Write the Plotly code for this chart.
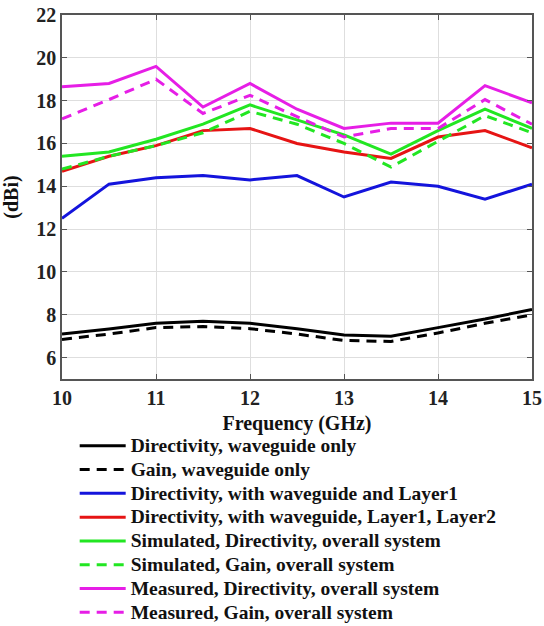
import plotly.graph_objects as go

# Frequency sweep (GHz)
freq = [10, 10.5, 11, 11.5, 12, 12.5, 13, 13.5, 14, 14.5, 15]

# Directivity / gain values (dBi)
dir_waveguide = [7.1, 7.33, 7.6, 7.7, 7.6, 7.35, 7.05, 7.0, 7.4, 7.8, 8.25]
gain_waveguide = [6.85, 7.1, 7.4, 7.45, 7.35, 7.1, 6.8, 6.75, 7.15, 7.6, 8.0]
dir_layer1 = [12.5, 14.1, 14.4, 14.5, 14.3, 14.5, 13.5, 14.2, 14.0, 13.4, 14.1]
dir_layer12 = [14.7, 15.4, 15.9, 16.6, 16.7, 16.0, 15.6, 15.3, 16.3, 16.6, 15.8]
sim_dir = [15.4, 15.6, 16.2, 16.9, 17.8, 17.1, 16.4, 15.5, 16.6, 17.6, 16.7]
sim_gain = [14.8, 15.4, 15.9, 16.5, 17.5, 16.9, 16.0, 14.9, 16.1, 17.3, 16.5]
meas_dir = [18.65, 18.8, 19.6, 17.7, 18.8, 17.6, 16.7, 16.95, 16.95, 18.7, 17.9]
meas_gain = [17.15, 18.05, 19.0, 17.4, 18.25, 17.25, 16.3, 16.7, 16.7, 18.05, 16.9]

series = [
    ("Directivity, waveguide only", dir_waveguide, "#000000", "solid"),
    ("Gain, waveguide only", gain_waveguide, "#000000", "10px,7px"),
    ("Directivity, with waveguide and Layer1", dir_layer1, "#1414dc", "solid"),
    ("Directivity, with waveguide, Layer1, Layer2", dir_layer12, "#e61414", "solid"),
    ("Simulated, Directivity, overall system", sim_dir, "#22e622", "solid"),
    ("Simulated, Gain, overall system", sim_gain, "#22e622", "10px,7px"),
    ("Measured, Directivity, overall system", meas_dir, "#e61ee6", "solid"),
    ("Measured, Gain, overall system", meas_gain, "#e61ee6", "10px,7px"),
]

x_ticks = [10, 11, 12, 13, 14, 15]
y_ticks = [6, 8, 10, 12, 14, 16, 18, 20, 22]

serif = "Liberation Serif"

fig = go.Figure()
for name, vals, color, dash in series:
    fig.add_trace(go.Scatter(
        x=freq, y=vals, mode="lines",
        # larger glyphs than the legend row pitch so the rows stay compact
        name=f'<span style="font-size:19.5px">{name}</span>',
        line=dict(color=color, width=3, dash=dash),
    ))

axis_common = dict(
    showline=True, linecolor="#555555", linewidth=1.5, mirror="ticks",
    ticks="inside", ticklen=5, tickcolor="#555555", tickwidth=1,
    showgrid=True, gridcolor="#dedede", gridwidth=1, zeroline=False,
    automargin=False,
    tickfont=dict(family=serif, size=20, color="#222222", weight="bold"),
)

fig.update_layout(
    width=544, height=626,
    margin=dict(l=62, r=12, t=15, b=247, autoexpand=False),
    paper_bgcolor="white", plot_bgcolor="white",
    xaxis=dict(
        range=[10, 15], tickvals=x_ticks, **axis_common,
        title=dict(text="<b>Frequency (GHz)</b>", standoff=8,
                   font=dict(family=serif, size=20, color="#111111")),
    ),
    yaxis=dict(
        range=[5, 22], tickvals=y_ticks, **axis_common,
        title=dict(text="<b>(dBi)</b>", standoff=12,
                   font=dict(family=serif, size=20, color="#111111")),
    ),
    legend=dict(
        x=0.027, y=-0.137, xanchor="left", yanchor="top",
        bgcolor="rgba(255,255,255,0)", borderwidth=0,
        font=dict(family=serif, size=16, color="#111111", weight="bold"),
        itemwidth=46, tracegroupgap=0,
    ),
    showlegend=True,
)

fig.write_html("out.html")
